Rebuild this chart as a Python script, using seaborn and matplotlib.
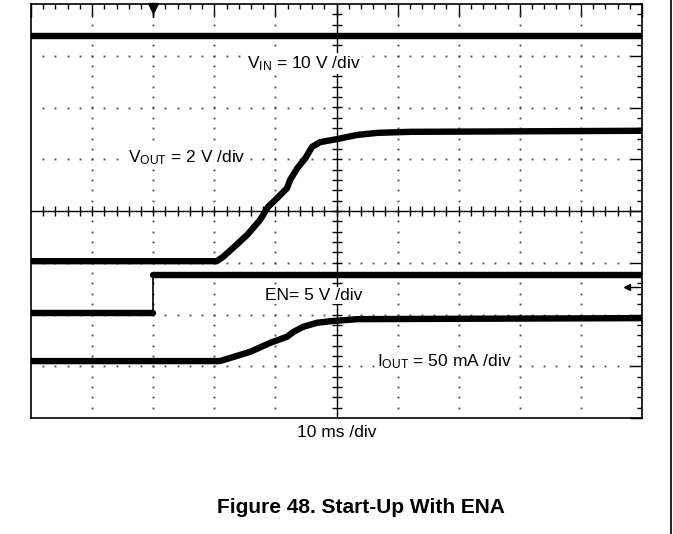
import numpy as np
import pandas as pd
import seaborn as sns
import matplotlib.pyplot as plt
from matplotlib.lines import Line2D

sns.set_style(style='white')
plt.rcParams['font.family'] = ['Liberation Sans', 'DejaVu Sans']
plt.rcParams['mathtext.default'] = 'regular'
plt.rcParams['text.color'] = 'black'

# scope traces: time in ms (10 ms/div), level in screen divisions (0..8)
vin_t = [0, 100]
vin_y = [7.38, 7.38]

vout_t = [0, 30.4, 31.4, 33.1, 35.4, 37.5, 38.8, 40.3, 41.9, 42.4, 43.6, 44.9,
          46.0, 47.3, 50.1, 53.4, 56.7, 62.1, 100]
vout_y = [3.03, 3.03, 3.11, 3.29, 3.54, 3.83, 4.08, 4.25, 4.44, 4.60, 4.83, 5.02,
          5.24, 5.33, 5.39, 5.47, 5.51, 5.53, 5.55]

en_t = [0, 19.9, 19.9, 100]
en_y = [2.03, 2.03, 2.76, 2.76]

iout_t = [0, 30.9, 32.6, 35.9, 39.1, 41.9, 42.9, 44.5, 46.8, 49.0, 53.4, 100]
iout_y = [1.10, 1.10, 1.16, 1.28, 1.45, 1.57, 1.66, 1.76, 1.84, 1.87, 1.91, 1.93]

trigger_t = 20
ground_level = 2.53

labels = [
    (35.4, 6.76, 'V$_{IN}$ = 10 V /div'),
    (15.8, 4.94, 'V$_{OUT}$ = 2 V /div'),
    (38.3, 2.28, 'EN= 5 V /div'),
    (56.7, 0.99, 'I$_{OUT}$ = 50 mA /div'),
]

fig = plt.figure(figsize=(6.73, 5.34), dpi=100)
ax = fig.add_axes([31 / 673, 1 - 418 / 534, 611 / 673, 414 / 534])
ax.set_xlim(0, 100)
ax.set_ylim(0, 8)

# graticule
ax.set_xticks(np.arange(0, 101, 10))
ax.set_xticks(np.arange(0, 101, 2), minor=True)
ax.set_yticks(np.arange(0, 9, 1))
ax.set_yticks(np.arange(0, 8.01, 0.2), minor=True)
ax.tick_params(which='both', direction='in', top=True, right=True,
               labelbottom=False, labelleft=False, color='black', width=1.0)
ax.tick_params(which='major', length=9)
ax.tick_params(which='minor', length=3.5)
for s in ax.spines.values():
    s.set_color('black')
    s.set_linewidth(1.2)

minor_y = np.arange(0.2, 8, 0.2)
minor_x = np.arange(2, 100, 2)
for gx in [10, 20, 30, 40, 60, 70, 80, 90]:
    ax.plot(np.full_like(minor_y, gx), minor_y, ls='none', marker='s', ms=1.3,
            color='#444444', mew=0, zorder=1)
for gy in [1, 2, 3, 5, 6, 7]:
    ax.plot(minor_x, np.full_like(minor_x, gy, dtype=float), ls='none', marker='s',
            ms=1.3, color='#444444', mew=0, zorder=1)

ax.axvline(50, color='black', lw=1.0, zorder=1)
ax.axhline(4, color='black', lw=1.0, zorder=1)
ax.plot(np.full_like(minor_y, 50), minor_y, ls='none', marker='_', ms=7,
        mew=1.0, color='black', zorder=1)
ax.plot(minor_x, np.full_like(minor_x, 4, dtype=float), ls='none', marker='|',
        ms=7, mew=1.0, color='black', zorder=1)

# traces (the EN edge is fast, so its vertical part is thin)
thick = [(vin_t, vin_y), (vout_t, vout_y), (en_t[:2], en_y[:2]),
         (en_t[2:], en_y[2:]), (iout_t, iout_y)]
sns.lineplot(x=en_t, y=en_y, estimator=None, sort=False, color='black',
             lw=1.2, ax=ax, zorder=3)
for t, y in thick:
    df = pd.DataFrame({'t': t, 'y': y})
    sns.lineplot(data=df, x='t', y='y', estimator=None, sort=False,
                 color='black', lw=4.6, ax=ax, zorder=3)
ax.set(xlabel='', ylabel='')

# markers: trigger position and ground reference
ax.plot([trigger_t, trigger_t], [7.75, 7.95], color='black', lw=1.0,
        clip_on=False, zorder=4)
ax.plot([trigger_t], [7.93], marker='v', ms=7, color='black', clip_on=False, zorder=4)
ax.plot([97.6, 99.6], [ground_level, ground_level], color='black', lw=1.0, zorder=4)
ax.plot([97.6], [ground_level], marker='<', ms=4, color='black', zorder=4)

for x, y, txt in labels:
    ax.text(x, y, txt, fontsize=12.5, ha='left', va='baseline', zorder=2,
            bbox=dict(facecolor='white', edgecolor='none', pad=1.0))

ax.text(43.6, -0.37, '10 ms /div', fontsize=12.5, ha='left', va='baseline',
        clip_on=False)

fig.text(217 / 673, 1 - 513 / 534, 'Figure 48. Start-Up With ENA', fontsize=15,
         fontweight='bold', ha='left', va='baseline')

fig.add_artist(Line2D([671 / 673, 671 / 673], [0, 1], color='black', lw=1.2))

fig.savefig('out.png', dpi=100)
